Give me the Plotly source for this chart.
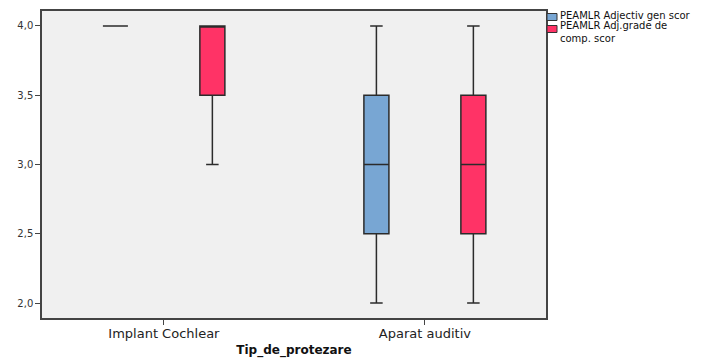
import plotly.graph_objects as go

# Categories on the x axis
categories = ["Implant Cochlear", "Aparat auditiv"]

# Five-number summaries per series (min, Q1, median, Q3, max)
adj_gen_min = [4.0, 2.0]
adj_gen_q1 = [4.0, 2.5]
adj_gen_med = [4.0, 3.0]
adj_gen_q3 = [4.0, 3.5]
adj_gen_max = [4.0, 4.0]

adj_grade_min = [3.0, 2.0]
adj_grade_q1 = [3.5, 2.5]
adj_grade_med = [4.0, 3.0]
adj_grade_q3 = [4.0, 3.5]
adj_grade_max = [4.0, 4.0]

series_names = ["PEAMLR Adjectiv gen scor", "PEAMLR Adj.grade de<br>comp. scor"]
series_colors = ["#78A6D3", "#FF3366"]
y_ticks = [2.0, 2.5, 3.0, 3.5, 4.0]

W, H = 722, 360
ML, MR, MT, MB = 42, 176, 11, 42
PW, PH = W - ML - MR, H - MT - MB
FONT = "DejaVu Sans, Liberation Sans, Arial, sans-serif"


def px_x(px):
    return (px - ML) / PW


def px_y(py):
    return 1 - (py - MT) / PH


fig = go.Figure()
summaries = [
    (adj_gen_min, adj_gen_q1, adj_gen_med, adj_gen_q3, adj_gen_max),
    (adj_grade_min, adj_grade_q1, adj_grade_med, adj_grade_q3, adj_grade_max),
]
for name, color, (lo, q1, med, q3, hi) in zip(series_names, series_colors, summaries):
    fig.add_trace(go.Box(
        name=name, x=categories,
        lowerfence=lo, q1=q1, median=med, q3=q3, upperfence=hi,
        fillcolor=color, line=dict(color="#2b2b2b", width=1.5),
        whiskerwidth=0.5, boxpoints=False, showlegend=False,
    ))

# Legend drawn as swatches with text labels beside the plot frame
legend_rows = [(17, 15.5), (29, 32)]  # (swatch centre px, text centre px)
for (sy, ty), name, color in zip(legend_rows, series_names, series_colors):
    fig.add_shape(
        type="rect", xref="paper", yref="paper",
        x0=px_x(547), x1=px_x(557), y0=px_y(sy - 3.5), y1=px_y(sy + 3.5),
        fillcolor=color, line=dict(color="#333", width=1),
    )
    fig.add_annotation(
        xref="paper", yref="paper", x=px_x(558), y=px_y(ty),
        xanchor="left", yanchor="middle", showarrow=False, align="left",
        text=name,
        font=dict(family=FONT, size=10, color="#111"),
    )

fig.update_layout(
    width=W, height=H,
    margin=dict(l=ML, r=MR, t=MT, b=MB),
    paper_bgcolor="white", plot_bgcolor="#F0F0F0",
    boxmode="group", boxgap=0.257, boxgroupgap=0.742,
    separators=",.",
    font=dict(family=FONT, size=10, color="#222"),
    showlegend=False,
    xaxis=dict(
        type="category", range=[-0.467, 1.464], automargin=False,
        showline=True, linecolor="#444", linewidth=1.5, mirror=True,
        ticks="outside", ticklen=5, tickcolor="#444",
        ticklabelstandoff=-2,
        showgrid=False, zeroline=False,
        tickfont=dict(family=FONT, size=13, color="#222"),
        title=dict(text="<b>Tip_de_protezare</b>",
                   font=dict(family=FONT, size=12, color="#111"), standoff=5),
    ),
    yaxis=dict(
        range=[1.892, 4.108], tickvals=y_ticks, tickformat=".1f", automargin=False,
        showline=True, linecolor="#444", linewidth=1.5, mirror=True,
        ticks="outside", ticklen=5, tickcolor="#444",
        showgrid=False, zeroline=False,
        tickfont=dict(family=FONT, size=10, color="#333"),
    ),
)

fig.write_html("out.html")
